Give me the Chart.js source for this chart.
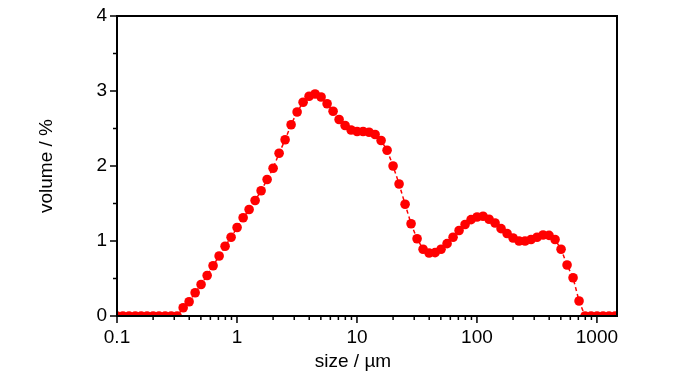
<!DOCTYPE html>
<html>
<head>
<meta charset="utf-8">
<script src="https://cdn.jsdelivr.net/npm/chart.js@4/dist/chart.umd.min.js"></script>
<style>
  html, body { margin: 0; padding: 0; background: #fff; }
  canvas { display: block; }
</style>
</head>
<body>
<canvas id="psd" width="700" height="374"></canvas>
<script>
// particle size classes (um)
const sizes = [
  0.1, 0.112, 0.126, 0.142, 0.159, 0.178, 0.2, 0.224, 0.252, 0.283, 0.317,
  0.356, 0.399, 0.448, 0.502, 0.564, 0.632, 0.71, 0.796, 0.893,
  1.002, 1.125, 1.262, 1.416, 1.589, 1.783, 2.0, 2.244, 2.518, 2.825,
  3.17, 3.557, 3.991, 4.477, 5.024, 5.637, 6.325, 7.096, 7.962, 8.934,
  10.024, 11.247, 12.619, 14.159, 15.887, 17.825, 20.0, 22.44, 25.179, 28.251,
  31.698, 35.566, 39.905, 44.774, 50.238, 56.368, 63.246, 70.963, 79.621, 89.337,
  100.237, 112.468, 126.191, 141.589, 158.866, 178.25, 200.0, 224.404, 251.785, 282.508,
  316.979, 355.656, 399.052, 447.744, 502.377, 563.677, 632.456, 709.627, 796.214, 893.367,
  1002.374, 1124.683, 1261.915, 1415.892, 1588.656
];

// volume fraction (%)
const volume = [
  0, 0, 0, 0, 0, 0, 0, 0, 0, 0, 0,
  0.11, 0.19, 0.31, 0.42, 0.54, 0.67, 0.80, 0.93, 1.05,
  1.18, 1.31, 1.42, 1.54, 1.67, 1.82, 1.97, 2.17, 2.35, 2.55,
  2.72, 2.85, 2.93, 2.96, 2.92, 2.83, 2.73, 2.62, 2.54, 2.48,
  2.46, 2.46, 2.45, 2.42, 2.34, 2.21, 2.00, 1.76, 1.49, 1.23,
  1.03, 0.89, 0.84, 0.845, 0.89, 0.965, 1.05, 1.14, 1.22, 1.285,
  1.32, 1.33, 1.29, 1.24, 1.165, 1.10, 1.04, 1.00, 1.00, 1.02,
  1.05, 1.08, 1.075, 1.02, 0.89, 0.68, 0.51, 0.20, 0, 0,
  0, 0, 0, 0, 0
];

const xTicks = [0.1, 1, 10, 100, 1000];
const xMinor = [0.2, 0.3, 0.4, 0.5, 0.6, 0.7, 0.8, 0.9,
  2, 3, 4, 5, 6, 7, 8, 9, 20, 30, 40, 50, 60, 70, 80, 90,
  200, 300, 400, 500, 600, 700, 800, 900];
const yTicks = [0, 1, 2, 3, 4];
const yMinor = [0.5, 1.5, 2.5, 3.5];

const FONT = "'Liberation Sans', Arial, sans-serif";

// box frame, tick marks and x title
const framePlugin = {
  id: "frame",
  afterDraw(c) {
    const { ctx, chartArea: a, scales: { x, y } } = c;
    ctx.save();
    ctx.strokeStyle = "#000";
    ctx.lineWidth = 1.5;
    ctx.beginPath();
    xTicks.forEach(v => { const p = x.getPixelForValue(v); ctx.moveTo(p, a.bottom); ctx.lineTo(p, a.bottom + 7); });
    xMinor.forEach(v => { const p = x.getPixelForValue(v); ctx.moveTo(p, a.bottom); ctx.lineTo(p, a.bottom + 4); });
    yTicks.forEach(v => { const p = y.getPixelForValue(v); ctx.moveTo(a.left, p); ctx.lineTo(a.left - 7, p); });
    yMinor.forEach(v => { const p = y.getPixelForValue(v); ctx.moveTo(a.left, p); ctx.lineTo(a.left - 4, p); });
    ctx.stroke();
    ctx.lineWidth = 2;
    ctx.strokeRect(a.left, a.top, a.right - a.left, a.bottom - a.top);

    ctx.fillStyle = "#000";
    ctx.font = "19px " + FONT;
    ctx.textAlign = "center";
    ctx.textBaseline = "middle";
    ctx.fillText("size / \u00b5m", 353, 362);
    ctx.restore();
  }
};

new Chart(document.getElementById("psd"), {
  type: "line",
  data: {
    datasets: [{
      data: sizes.map((s, i) => ({ x: s, y: volume[i] })),
      borderColor: "#ff0000",
      borderWidth: 1.5,
      borderDash: [4, 3],
      backgroundColor: "#ff0000",
      pointBackgroundColor: "#ff0000",
      pointBorderWidth: 0,
      pointRadius: 4.8,
      tension: 0,
      clip: 0
    }]
  },
  options: {
    responsive: false,
    animation: false,
    events: [],
    layout: { padding: { top: 16, right: 83, left: 0, bottom: 0 } },
    plugins: { legend: { display: false }, tooltip: { enabled: false } },
    scales: {
      x: {
        type: "logarithmic",
        min: 0.1,
        max: 1470,
        afterBuildTicks: s => { s.ticks = xTicks.map(v => ({ value: v })); },
        afterFit: s => { s.height = 58; },
        grid: { drawOnChartArea: false, drawTicks: true, tickLength: 7, tickColor: "rgba(0,0,0,0)" },
        border: { display: false },
        ticks: {
          color: "#000",
          padding: 3,
          maxRotation: 0,
          font: { family: FONT, size: 19 },
          callback: v => String(v)
        }
      },
      y: {
        min: 0,
        max: 4,
        afterBuildTicks: s => { s.ticks = yTicks.map(v => ({ value: v })); },
        afterFit: s => { s.width = 117; },
        grid: { drawOnChartArea: false, drawTicks: true, tickLength: 7, tickColor: "rgba(0,0,0,0)" },
        border: { display: false },
        ticks: { color: "#000", padding: 3, font: { family: FONT, size: 19 } },
        title: {
          display: true,
          text: "volume / %",
          color: "#000",
          font: { family: FONT, size: 19 },
          padding: { top: 35, bottom: 0 }
        }
      }
    }
  },
  plugins: [framePlugin]
});
</script>
</body>
</html>
